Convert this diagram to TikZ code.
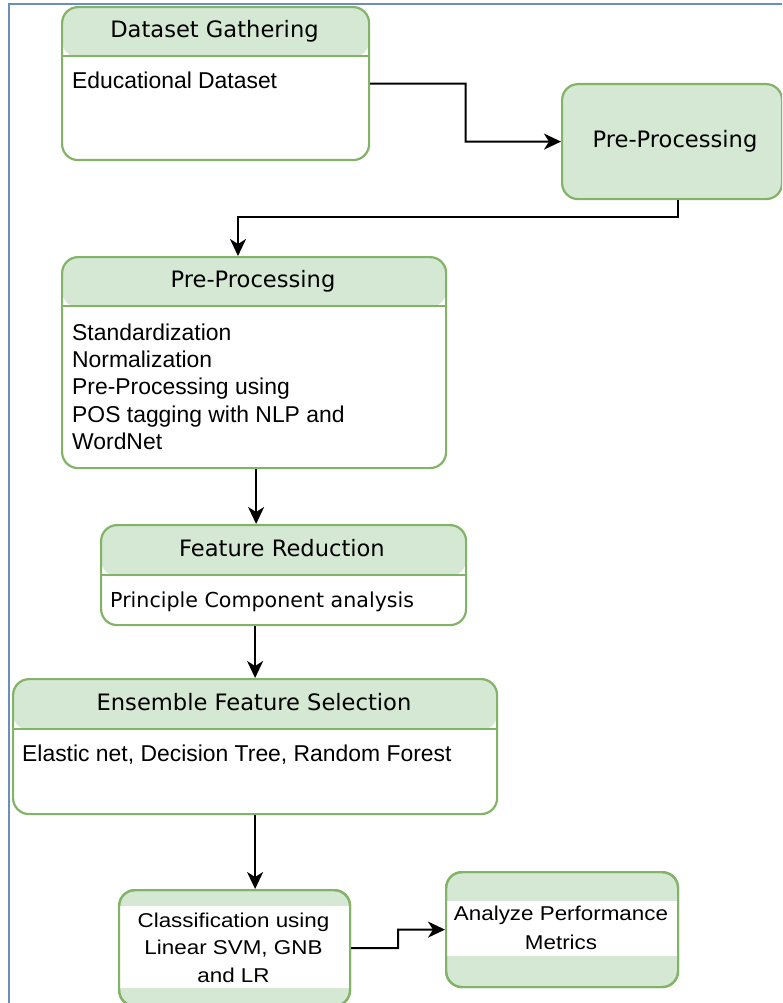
\documentclass[tikz,border=0pt]{standalone}
\usepackage{fontspec}
\setmainfont{Liberation Sans}
\newfontfamily\titlefont{DejaVu Sans}
\newfontfamily\condfont[FakeStretch=1.12]{Liberation Sans}
\usetikzlibrary{arrows.meta,calc}
\definecolor{gfill}{HTML}{D5E8D4}
\definecolor{gline}{HTML}{82B366}
\definecolor{frameblue}{HTML}{6C8EBF}
\begin{document}
\begin{tikzpicture}[x=1pt,y=-1pt,
  box/.style={draw=gline, line width=2.2pt, rounded corners=16pt, fill=white, inner sep=0pt, anchor=north west},
  hdr/.style={path picture={\fill[gfill] (path picture bounding box.north west) rectangle ([yshift=-#1pt]path picture bounding box.north east);}},
  sepline/.style={draw=gline, line width=2.2pt},
  title/.style={font=\titlefont\fontsize{22.6}{26}\selectfont, inner sep=0pt, anchor=base},
  body/.style={font=\fontsize{22.9}{27.3}\selectfont, inner sep=0pt, anchor=base west},
  bodyml/.style={font=\fontsize{22.9}{27.3}\selectfont, inner sep=0pt, anchor=north west, align=left},
  cond/.style={font=\condfont\fontsize{20}{27.5}\selectfont, inner sep=0pt, anchor=north, align=center},
  arr/.style={draw=black, line width=2pt, -{Stealth[length=17pt,width=16pt,inset=5pt]}},
  frame/.style={draw=frameblue, line width=2pt}
]
\useasboundingbox (0,0) rectangle (782,1003);
\clip (0,0) rectangle (782,1003);

% outer frame
\coordinate (fr) at (9,4);
\draw[frame] (fr |- 0,1010) -- (fr) -- (790,4);

% box 1
\node[box, hdr=50, minimum width=307pt, minimum height=153pt] (b1) at (61,6) {};
\draw[sepline] ($(b1.north west)+(0,50)$) -- ($(b1.north east)+(0,50)$);
\node[title] (t1) at (214.5,38) {Dataset Gathering};
\node[body] (e1) at (72,89) {Educational Dataset};

% box 2
\node[box, fill=gfill, minimum width=220pt, minimum height=115pt] (b2) at (561,83) {};
\node[title] (t2) at (675,148) {Pre-Processing};

% box 3
\node[box, hdr=50, minimum width=384pt, minimum height=211pt] (b3) at (61,256) {};
\draw[sepline] ($(b3.north west)+(0,50)$) -- ($(b3.north east)+(0,50)$);
\node[title] (t3) at (253,287) {Pre-Processing};
\node[bodyml] (e3) at (72,323.6) {Standardization\\Normalization\\Pre-Processing using\\POS tagging with NLP and\\WordNet};

% box 4
\node[box, hdr=51, minimum width=365pt, minimum height=100pt] (b4) at (100,524) {};
\draw[sepline] ($(b4.north west)+(0,51)$) -- ($(b4.north east)+(0,51)$);
\node[title] (t4) at (282,556) {Feature Reduction};
\node[body, font=\titlefont\fontsize{20.6}{24}\selectfont] (e4) at (110,607.5) {Principle Component analysis};

% box 5
\node[box, hdr=51, minimum width=484pt, minimum height=135pt] (b5) at (12,678) {};
\draw[sepline] ($(b5.north west)+(0,51)$) -- ($(b5.north east)+(0,51)$);
\node[title] (t5) at (254,710) {Ensemble Feature Selection};
\node[body] (e5) at (22,761) {Elastic net, Decision Tree, Random Forest};

% box 6
\node[box, fill=gfill, minimum width=231pt, minimum height=116pt] (b6) at (118,889) {};
\fill[white] ($(b6.north west)+(2,17)$) rectangle ($(b6.north east)+(-2,99)$);
\node[box, fill=none, minimum width=231pt, minimum height=116pt] (b6o) at (118,889) {};
\node[cond] (e6) at (233.5,912.5) {Classification using\\Linear SVM, GNB\\and LR};

% box 7
\node[box, fill=gfill, minimum width=232pt, minimum height=115pt] (b7) at (445,871) {};
\fill[white] ($(b7.north west)+(2,30)$) rectangle ($(b7.north east)+(-2,85)$);
\node[box, fill=none, minimum width=232pt, minimum height=115pt] (b7o) at (445,871) {};
\node[cond, font=\condfont\fontsize{20}{29}\selectfont] (e7) at (561,905.6) {Analyze Performance\\Metrics};

% connectors
\draw[arr] (b1.east) -- ($(b1.east)!0.5!(b2.west |- b1.east)$) |- (b2.west);
\coordinate (k2) at (238,217);
\draw[arr] ([xshift=6pt]b2.south) |- (k2) -- (k2 |- b3.north);
\draw[arr] ([xshift=2pt]b3.south) -- ([xshift=2pt]b3.south |- b4.north);
\draw[arr] (b5.north |- b4.south) -- (b5.north);
\draw[arr] (b5.south) -- (b5.south |- b6.north);
\draw[arr] (b6.east) -- ($(b6.east)!0.5!(b7.west |- b6.east)$) |- (b7.west);
\end{tikzpicture}
\end{document}
